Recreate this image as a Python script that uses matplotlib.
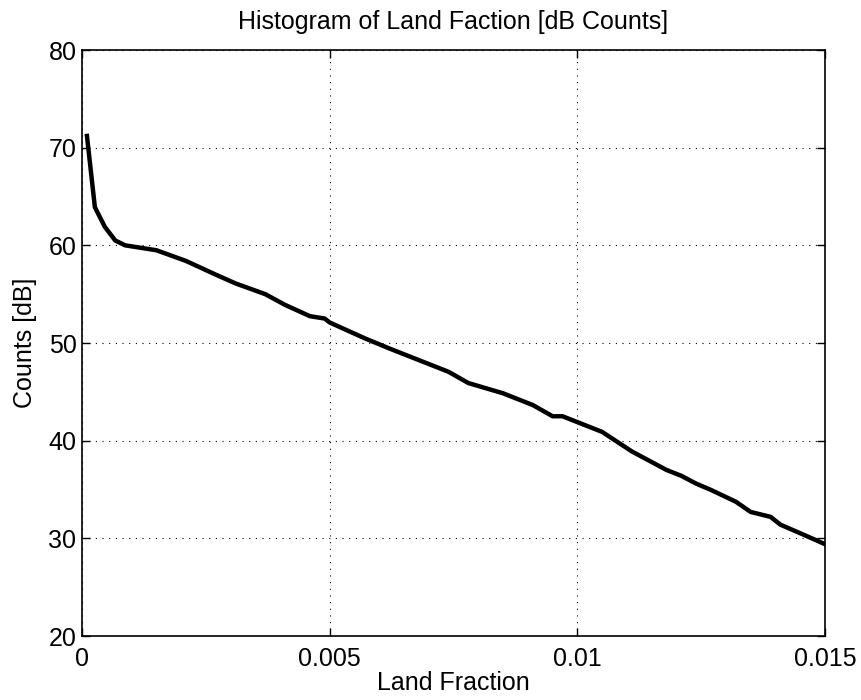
import numpy as np
import matplotlib
matplotlib.use("Agg")
import matplotlib.pyplot as plt

plt.rcParams['font.family'] = ['Liberation Sans', 'DejaVu Sans']

# land fraction (bin centres) and counts in dB
land_fraction = [0.0001, 0.00026, 0.00046, 0.00067, 0.00087, 0.00137, 0.0015,
                 0.0021, 0.0027, 0.0031, 0.0037, 0.0041, 0.0046, 0.0049,
                 0.0050, 0.0057, 0.0062, 0.0068, 0.0074, 0.0078, 0.0085,
                 0.0091, 0.0095, 0.0097, 0.0103, 0.0105, 0.0111, 0.0118,
                 0.0121, 0.0124, 0.0127, 0.0132, 0.0135, 0.0139, 0.0141,
                 0.0146, 0.0150]
counts_db = [71.2, 63.9, 61.9, 60.5, 60.0, 59.6, 59.5,
             58.4, 57.0, 56.1, 55.0, 53.9, 52.75, 52.5,
             52.1, 50.5, 49.45, 48.25, 47.05, 45.9, 44.85,
             43.65, 42.5, 42.5, 41.3, 40.9, 38.9, 37.0,
             36.4, 35.6, 34.95, 33.75, 32.7, 32.2, 31.4,
             30.3, 29.4]

xticks = [0, 0.005, 0.01, 0.015]
xtick_labels = ['0', '0.005', '0.01', '0.015']
yticks = [20, 30, 40, 50, 60, 70, 80]

fig = plt.figure(figsize=(8.61, 7.0), dpi=100)
ax = fig.add_axes([82 / 861, 1 - 636 / 700, (825 - 82) / 861, (636 - 50) / 700])

ax.plot(land_fraction, counts_db, color='black', linewidth=3.2, solid_joinstyle='round')

ax.set_xlim(0, 0.015)
ax.set_ylim(20, 80)
ax.set_xticks(xticks)
ax.set_xticklabels(xtick_labels)
ax.set_yticks(yticks)

ax.grid(True, color='black', linestyle=(0, (1, 5)), linewidth=0.8)
ax.tick_params(direction='in', top=True, right=True, length=6, width=1,
               labelsize=18)
ax.tick_params(axis='x', pad=8)
ax.tick_params(axis='y', pad=4)
for s in ax.spines.values():
    s.set_linewidth(1.2)

ax.set_title('Histogram of Land Faction [dB Counts]', fontsize=18, pad=15)
ax.set_xlabel('Land Fraction', fontsize=18, labelpad=0)
ax.set_ylabel('Counts [dB]', fontsize=18, labelpad=8)

fig.savefig('out.png', dpi=100)
